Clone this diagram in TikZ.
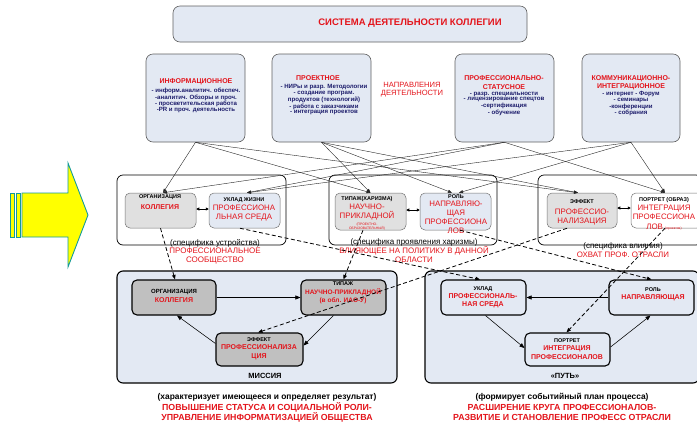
\documentclass[tikz,border=0pt]{standalone}
\usepackage{fontspec}
\setmainfont{Liberation Sans}
\usetikzlibrary{arrows.meta}
\definecolor{boxblue}{HTML}{E3E9F3}
\definecolor{lightgray2}{HTML}{E0E0E0}
\definecolor{midgray}{HTML}{C0C0C0}
\definecolor{edgegray}{HTML}{606060}
\definecolor{txtred}{HTML}{E3141B}
\definecolor{txtnavy}{HTML}{1C1C6B}
\definecolor{arrowteal}{HTML}{139A9A}
\definecolor{arrowyellow}{HTML}{FFFF00}
\newcommand{\fsz}[2]{\fontsize{#1}{#2}\selectfont}
\begin{document}
\begin{tikzpicture}[x=1pt,y=-1pt,
  tbox/.style={draw=edgegray, fill=boxblue, rounded corners=7pt, line width=0.6pt, inner sep=0pt},
  grp/.style={draw=black, fill=white, rounded corners=6pt, line width=0.7pt, inner sep=0pt},
  gin/.style={draw=black!55, rounded corners=5pt, line width=0.5pt, inner sep=0pt},
  big/.style={draw=black, fill=boxblue, rounded corners=6pt, line width=1.1pt, inner sep=0pt},
  inn/.style={draw=black, rounded corners=5pt, line width=1.1pt, inner sep=0pt},
  txt/.style={inner sep=0pt, align=center},
  hd/.style={txt, font=\bfseries\fsz{5.5}{6.5}},
  rdb/.style={txt, text=txtred, font=\bfseries\fsz{7}{8}},
  rdr/.style={txt, text=txtred, font=\fsz{7.9}{9}},
  nav/.style={txt, text=txtnavy, font=\bfseries\fsz{6.1}{5.6}},
  fan/.style={draw=black!85, line width=0.4pt, -{Triangle[length=4pt,width=3pt]}},
  dlink/.style={draw=black, line width=0.8pt, dash pattern=on 4pt off 2.5pt, -{Triangle[length=4.5pt,width=3.5pt]}},
  flow/.style={draw=black, line width=0.55pt, -{Triangle[length=5pt,width=4pt]}},
  twoway/.style={draw=black, line width=0.6pt, {Triangle[length=3pt,width=3pt]}-{Triangle[length=3pt,width=3pt]}}
]
\useasboundingbox (0,0) rectangle (697,424);
\clip (0,0) rectangle (697,424);

% ---------- block arrow on the left ----------
\draw[draw=arrowteal, fill=arrowyellow, line width=0.9pt, line join=miter]
  (22,193) -- (68,193) -- (68,163) -- (88,215) -- (68,267) -- (68,237) -- (22,237) -- cycle;
\draw[draw=arrowteal, fill=arrowyellow, line width=0.8pt] (10,193) rectangle (14,237);
\draw[draw=arrowteal, fill=arrowyellow, line width=0.8pt] (16,193) rectangle (20.5,237);

% ---------- title ----------
\node[tbox, minimum width=354pt, minimum height=36pt] (title) at (350,24) {};
\node[txt, text=txtred, font=\bfseries\fsz{9.5}{11}] (titletext) at (410,23) {СИСТЕМА ДЕЯТЕЛЬНОСТИ КОЛЛЕГИИ};

% ---------- directions of activity ----------
\node[tbox, minimum width=99pt, minimum height=88pt] (t1) at (195.5,98) {};
\node[tbox, minimum width=99pt, minimum height=88pt] (t2) at (321.5,98) {};
\node[tbox, minimum width=99pt, minimum height=88pt] (t3) at (504.5,98) {};
\node[tbox, minimum width=98pt, minimum height=88pt] (t4) at (631,98) {};

\node[rdb] (t1h) at (196,82) {ИНФОРМАЦИОННОЕ};
\node[nav] (t1l) at (196,100.2) {- информ.аналитич. обеспеч.\\-аналитич. Обзоры и проч.\\- просветительская работа\\-PR и проч. деятельность};
\node[rdb] (t2h) at (318,78.5) {ПРОЕКТНОЕ};
\node[nav] (t2l) at (324,99.8) {- НИРы и разр. Методологии\\- создание програм.\\продуктов (технологий)\\- работа с заказчиками\\- интеграция проектов};
\node[rdb, font=\bfseries\fsz{7}{8.5}] (t3h) at (504,82.5) {ПРОФЕССИОНАЛЬНО-\\СТАТУСНОЕ};
\node[nav] (t3l) at (504,103.8) {- разр. специальности\\- лицензирование спецтов\\-сертификация\\- обучение};
\node[rdb, font=\bfseries\fsz{7}{8.5}] (t4h) at (631,82.5) {КОММУНИКАЦИОННО-\\ИНТЕГРАЦИОННОЕ};
\node[nav] (t4l) at (631,103.8) {- интернет - Форум\\- семинары\\-конференции\\- собрания};

\node[txt, text=txtred, font=\fsz{7.6}{7.8}] (dirlabel) at (412,89.5) {НАПРАВЛЕНИЯ\\ДЕЯТЕЛЬНОСТИ};

% ---------- middle groups ----------
\node[grp, minimum width=169pt, minimum height=70pt] (G1) at (201.5,210) {};
\node[grp, minimum width=168pt, minimum height=70pt] (G2) at (413,210) {};
\node[grp, minimum width=164pt, minimum height=70pt] (G3) at (620,210) {};

\node[gin, fill=lightgray2, minimum width=71pt, minimum height=35pt] (g1a) at (160.5,210.5) {};
\node[gin, fill=boxblue, minimum width=71pt, minimum height=35pt] (g1b) at (244.5,210.5) {};
\node[gin, fill=lightgray2, minimum width=71pt, minimum height=37pt] (g2a) at (370.5,211.5) {};
\node[gin, fill=boxblue, minimum width=71pt, minimum height=37pt] (g2b) at (455.5,211.5) {};
\node[gin, fill=lightgray2, minimum width=70pt, minimum height=35pt] (g3a) at (582,210.5) {};
\node[gin, fill=white, minimum width=71pt, minimum height=35pt] (g3b) at (666.5,210.5) {};

\node[hd] (g1ah) at (160,197.5) {ОРГАНИЗАЦИЯ};
\node[rdb] (g1at) at (160,207) {КОЛЛЕГИЯ};
\node[hd] (g1bh) at (244,200) {УКЛАД ЖИЗНИ};
\node[rdr] (g1bt) at (244,213.5) {ПРОФЕССИОНА\\ЛЬНАЯ СРЕДА};
\node[hd] (g2ah) at (367,199) {ТИПАЖ(ХАРИЗМА)};
\node[rdr] (g2at) at (367,212.5) {НАУЧНО-\\ПРИКЛАДНОЙ};
\node[txt, text=txtred, font=\fsz{3.4}{4.5}] (g2as) at (367,226.5) {(ПРОЕКТНО-\\ОБРАЗОВАТЕЛЬНЫЙ)};
\node[hd] (g2bh) at (456,197) {РОЛЬ};
\node[rdr] (g2bt) at (456,217.5) {НАПРАВЛЯЮ-\\ЩАЯ\\ПРОФЕССИОНА\\ЛОВ};
\node[hd] (g3ah) at (582,202) {ЭФФЕКТ};
\node[rdr] (g3at) at (582,217.5) {ПРОФЕССИО-\\НАЛИЗАЦИЯ};
\node[hd] (g3bh) at (664,200) {ПОРТРЕТ (ОБРАЗ)};
\node[rdr, font=\fsz{7.9}{9.5}] (g3bt) at (664,217.5) {ИНТЕГРАЦИЯ\\ПРОФЕССИОНА\\ЛОВ {\fsz{3.4}{4}(проектов)}};

\node[txt, font=\fsz{8}{8}] (G1s) at (215,243) {(специфика устройства)};
\node[rdr, font=\fsz{8}{9.5}] (G1t) at (215,256) {ПРОФЕССИОНАЛЬНОЕ\\СООБЩЕСТВО};
\node[txt, font=\fsz{8}{8}] (G2s) at (414,242) {(специфика проявления харизмы)};
\node[rdr] (G2t) at (414,254.5) {ВЛИЯЮЩЕЕ НА ПОЛИТИКУ В ДАННОЙ\\ОБЛАСТИ};
\node[txt, font=\fsz{8}{8}] (G3s) at (623,246) {(специфика влияния)};
\node[rdr] (G3t) at (623,255) {ОХВАТ ПРОФ. ОТРАСЛИ};

% ---------- mission and path ----------
\node[big, minimum width=280pt, minimum height=112pt] (M) at (257,327) {};
\node[big, minimum width=274pt, minimum height=112pt] (P) at (562,327) {};

\node[inn, fill=midgray, minimum width=84pt, minimum height=35pt] (m1) at (174,297.5) {};
\node[inn, fill=midgray, minimum width=85pt, minimum height=35pt] (m2) at (343.5,297.5) {};
\node[inn, fill=midgray, minimum width=87pt, minimum height=33pt] (m3) at (259.5,349.5) {};
\node[inn, fill=boxblue, minimum width=85pt, minimum height=35pt] (p1) at (483.5,297.5) {};
\node[inn, fill=boxblue, minimum width=85pt, minimum height=35pt] (p2) at (651.5,297.5) {};
\node[inn, fill=boxblue, minimum width=85pt, minimum height=33pt] (p3) at (567.5,349.5) {};

\node[hd, font=\bfseries\fsz{6}{7}] (m1h) at (174,292) {ОРГАНИЗАЦИЯ};
\node[rdb] (m1t) at (174,300.5) {КОЛЛЕГИЯ};
\node[hd] (m2h) at (343,284) {ТИПАЖ};
\node[rdb, font=\bfseries\fsz{6.5}{8}] (m2t) at (343,296) {НАУЧНО-ПРИКЛАДНОЙ\\(в обл. ИАО-У)};
\node[hd] (m3h) at (259,340) {ЭФФЕКТ};
\node[rdb, font=\bfseries\fsz{7}{9}] (m3t) at (259,352.5) {ПРОФЕССИОНАЛИЗА\\ЦИЯ};
\node[hd] (p1h) at (483,289) {УКЛАД};
\node[rdb] (p1t) at (483,301) {ПРОФЕССИОНАЛЬ-\\НАЯ СРЕДА};
\node[hd] (p2h) at (653,290) {РОЛЬ};
\node[rdb] (p2t) at (653,297.5) {НАПРАВЛЯЮЩАЯ};
\node[hd] (p3h) at (567,341) {ПОРТРЕТ};
\node[rdb, font=\bfseries\fsz{7}{9}] (p3t) at (567,352.5) {ИНТЕГРАЦИЯ\\ПРОФЕССИОНАЛОВ};

\node[txt, font=\bfseries\fsz{7.5}{8}] (Mlabel) at (265,376) {МИССИЯ};
\node[txt, font=\bfseries\fsz{7.5}{8}] (Plabel) at (565,376) {«ПУТЬ»};

% ---------- bottom captions ----------
\node[txt, font=\bfseries\fsz{8.4}{9}] (Ms) at (267,397) {(характеризует имеющееся и определяет результат)};
\node[txt, text=txtred, font=\bfseries\fsz{8.8}{10.5}] (Mt) at (267,412.5) {ПОВЫШЕНИЕ СТАТУСА И СОЦИАЛЬНОЙ РОЛИ-\\УПРАВЛЕНИЕ ИНФОРМАТИЗАЦИЕЙ ОБЩЕСТВА};
\node[txt, font=\bfseries\fsz{8.4}{9}] (Ps) at (562,397) {(формирует событийный план процесса)};
\node[txt, text=txtred, font=\bfseries\fsz{8.8}{10.5}] (Pt) at (562,412.5) {РАСШИРЕНИЕ КРУГА ПРОФЕССИОНАЛОВ-\\РАЗВИТИЕ И СТАНОВЛЕНИЕ ПРОФЕСС ОТРАСЛИ};

% ---------- links from directions to groups ----------
\draw[fan] (t1.south) -- ([xshift=2.5pt]g1a.north);
\draw[fan] (t1.south) -- (g2a.north);
\draw[fan] (t1.south) -- ([xshift=-4pt]g3a.north);
\draw[fan] (t2.south) -- (g2a.north);
\draw[fan] (t2.south) -- ([xshift=-3.5pt]g2b.north);
\draw[fan] (t2.south) -- ([xshift=-4pt]g3a.north);
\draw[fan] (t3.south) -- ([xshift=2.5pt]g1a.north);
\draw[fan] (t3.south) -- ([xshift=2.5pt]g1b.north);
\draw[fan] (t3.south) -- ([xshift=-1.5pt]g3b.north);
\draw[fan] (t4.south) -- ([xshift=2.5pt]g1b.north);
\draw[fan] (t4.south) -- ([xshift=3.5pt]g2b.north);
\draw[fan] (t4.south) -- ([xshift=-1.5pt]g3b.north);

% ---------- two-way links inside groups ----------
\draw[twoway] ([yshift=1.5pt]g1a.east) -- ([yshift=1.5pt]g1b.west);
\draw[twoway] ([yshift=1.5pt]g2a.east) -- ([yshift=1.5pt]g2b.west);
\draw[twoway] ([yshift=2.5pt]g3a.east) -- ([yshift=2.5pt]g3b.west);

% ---------- cycles ----------
\draw[flow] (m1.east) -- (m2.west);
\draw[flow] ([xshift=-10pt]m2.south) -- ([yshift=4pt]m3.east);
\draw[flow] ([yshift=6pt]m3.west) -- ([xshift=3pt]m1.south);
\draw[flow] (p2.west) -- (p1.east);
\draw[flow] ([xshift=2pt]p1.south) -- ([yshift=1.5pt]p3.west);
\draw[flow] ([yshift=2.5pt]p3.east) -- ([xshift=-1pt]p2.south);

% ---------- dashed links from groups ----------
\draw[dlink] (g1a.south) -- ([xshift=1pt]m1.north);
\draw[dlink] ([xshift=-7.5pt]g2a.south) -- (m2.north);
\draw[dlink] ([xshift=-15pt]g3a.south) -- ([xshift=-1.5pt]m3.north);
\draw[dlink] ([xshift=-4.5pt]g1b.south) -- ([xshift=-3.5pt]p1.north);
\draw[dlink] ([xshift=4.5pt]g2b.south) -- (p2.north);
\draw[dlink] ([xshift=-1.5pt]g3b.south) -- ([xshift=-1pt]p3.north);
\end{tikzpicture}
\end{document}
